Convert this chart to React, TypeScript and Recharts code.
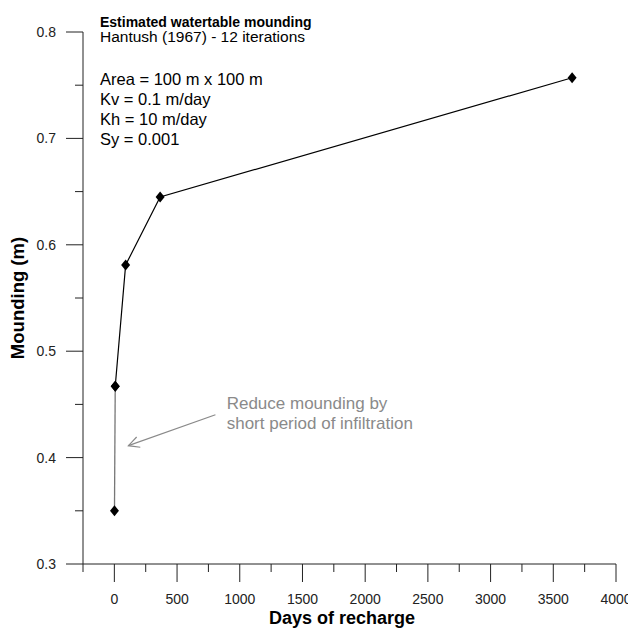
import React from 'react';
import { LineChart, Line, XAxis, YAxis, ReferenceLine, Customized } from 'recharts';

const days = [1, 7, 90, 365, 3650];
const mounding = [0.35, 0.467, 0.581, 0.645, 0.757];
const xMajorTicks = [0, 500, 1000, 1500, 2000, 2500, 3000, 3500, 4000];
const xMinorTicks = [-250, 250, 750, 1250, 1750, 2250, 2750, 3250, 3750];
const yMajorTicks = [0.3, 0.4, 0.5, 0.6, 0.7, 0.8];
const yMinorTicks = [0.35, 0.45, 0.55, 0.65, 0.75];
const titleLines = ['Estimated watertable mounding', 'Hantush (1967) - 12 iterations'];
const paramLines = ['Area = 100 m x 100 m', 'Kv = 0.1 m/day', 'Kh = 10 m/day', 'Sy = 0.001'];
const noteLines = ['Reduce mounding by', 'short period of infiltration'];
const arrowFrom = { x: 806, y: 0.4403 };
const arrowTo = { x: 112, y: 0.4112 };
const xTitle = 'Days of recharge';
const yTitle = 'Mounding (m)';

const points = days.map((d, i) => ({ day: d, m: mounding[i] }));
const shortSeg = points.slice(0, 2);
const longSeg = points.slice(1);
const allXTicks = [...xMajorTicks, ...xMinorTicks].sort((a, b) => a - b);
const allYTicks = [...yMajorTicks, ...yMinorTicks].sort((a, b) => a - b);

const FONT = '"Liberation Sans", Arial, Helvetica, sans-serif';
const AX = '#222';

const isMajor = (v: number, list: number[]) => list.some((t) => Math.abs(t - v) < 1e-9);

const XTick = (props: any) => {
  const { x, y, payload } = props;
  const major = isMajor(payload.value, xMajorTicks);
  return (
    <g>
      <line x1={x} x2={x} y1={y} y2={y + (major ? 18 : 8)} stroke={AX} strokeWidth={1} />
      {major && (
        <text x={x} y={y + 40} textAnchor="middle" fontFamily={FONT} fontSize={14} fill="#222">
          {payload.value}
        </text>
      )}
    </g>
  );
};

const YTick = (props: any) => {
  const { x, y, payload } = props;
  const major = isMajor(payload.value, yMajorTicks);
  return (
    <g>
      <line x1={x} x2={x - (major ? 17 : 8)} y1={y} y2={y} stroke={AX} strokeWidth={1} />
      {major && (
        <text x={x - 27} y={y + 5} textAnchor="end" fontFamily={FONT} fontSize={14} fill="#222">
          {Number(payload.value).toFixed(1)}
        </text>
      )}
    </g>
  );
};

const Diamond = (props: any) => {
  const { cx, cy } = props;
  if (cx == null || cy == null) return <g />;
  return (
    <path
      d={`M${cx},${cy - 5.5} L${cx + 4.5},${cy} L${cx},${cy + 5.5} L${cx - 4.5},${cy} Z`}
      fill="#000"
    />
  );
};

const ArrowShape = (props: any) => {
  const { x1, y1, x2, y2 } = props;
  if ([x1, y1, x2, y2].some((v) => v == null || isNaN(v))) return <g />;
  const ang = Math.atan2(y2 - y1, x2 - x1);
  const L = 12;
  const a = (27 * Math.PI) / 180;
  const w1x = x2 - L * Math.cos(ang - a);
  const w1y = y2 - L * Math.sin(ang - a);
  const w2x = x2 - L * Math.cos(ang + a);
  const w2y = y2 - L * Math.sin(ang + a);
  return (
    <g stroke="#8a8a8a" strokeWidth={1.2} fill="none">
      <line x1={x1} y1={y1} x2={x2} y2={y2} />
      <polyline points={`${w1x},${w1y} ${x2},${y2} ${w2x},${w2y}`} />
    </g>
  );
};

const Texts = () => (
  <g fontFamily={FONT}>
    <text x={92} y={18.7} fontSize={14} fontWeight="bold" fill="#000">{titleLines[0]}</text>
    <text x={92} y={34.3} fontSize={15.5} fill="#000">{titleLines[1]}</text>
    {paramLines.map((t, i) => (
      <text key={t} x={92} y={77 + i * 20} fontSize={16.5} fill="#000">{t}</text>
    ))}
    {noteLines.map((t, i) => (
      <text key={t} x={218.7} y={401.3 + i * 20} fontSize={17} fill="#8a8a8a">{t}</text>
    ))}
    <text x={334} y={616} fontSize={18} fontWeight="bold" textAnchor="middle" fill="#000">{xTitle}</text>
    <text
      x={0}
      y={0}
      transform="translate(16, 290) rotate(-90)"
      fontSize={18.5}
      fontWeight="bold"
      textAnchor="middle"
      fill="#000"
    >
      {yTitle}
    </text>
  </g>
);

export default function App() {
  return (
    <LineChart width={628} height={621} margin={{ top: 24, right: 20, bottom: 15, left: 15 }}>
      <XAxis
        dataKey="day"
        type="number"
        domain={[-250, 4000]}
        allowDataOverflow
        ticks={allXTicks}
        interval={0}
        tickSize={0}
        tickMargin={0}
        tick={<XTick />}
        tickLine={false}
        axisLine={{ stroke: AX, strokeWidth: 1 }}
        height={50}
      />
      <YAxis
        dataKey="m"
        type="number"
        domain={[0.3, 0.8]}
        allowDataOverflow
        ticks={allYTicks}
        interval={0}
        tickSize={0}
        tickMargin={0}
        tick={<YTick />}
        tickLine={false}
        axisLine={{ stroke: AX, strokeWidth: 1 }}
        width={60}
      />
      <ReferenceLine
        segment={[arrowFrom, arrowTo]}
        ifOverflow="visible"
        shape={<ArrowShape />}
      />
      <Line
        data={shortSeg}
        dataKey="m"
        type="linear"
        stroke="#777"
        strokeWidth={1.3}
        dot={(p: any) => <Diamond key={`s${p.index}`} {...p} />}
        activeDot={false}
        isAnimationActive={false}
      />
      <Line
        data={longSeg}
        dataKey="m"
        type="linear"
        stroke="#000"
        strokeWidth={1.2}
        dot={(p: any) => <Diamond key={`l${p.index}`} {...p} />}
        activeDot={false}
        isAnimationActive={false}
      />
      <Customized component={<Texts />} />
    </LineChart>
  );
}
